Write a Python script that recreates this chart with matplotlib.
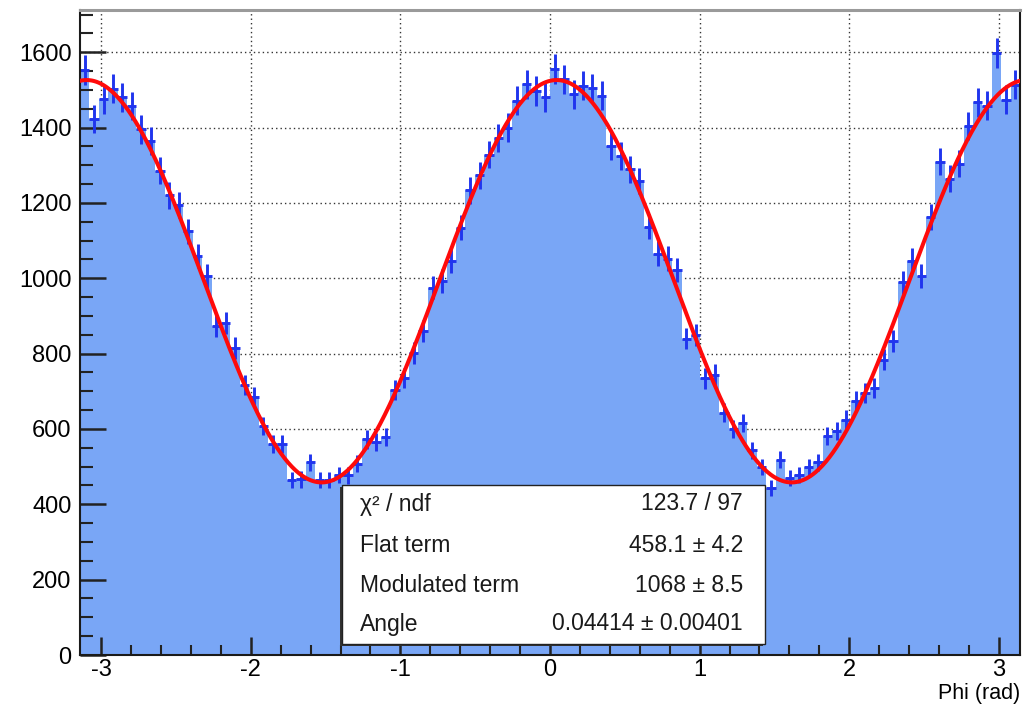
import numpy as np
import matplotlib
matplotlib.use("Agg")
import matplotlib.pyplot as plt
from matplotlib.ticker import MultipleLocator, FixedLocator
from matplotlib.patches import Rectangle

# Histogram contents, 100 bins over [-pi, pi]
counts = [
    1553, 1422, 1475, 1503, 1481, 1457, 1395, 1365, 1285, 1220,
    1195, 1125, 1059, 1005, 873, 882, 815, 716, 685, 608,
    559, 559, 464, 466, 511, 465, 464, 478, 477, 508,
    572, 566, 579, 704, 735, 802, 860, 975, 992, 1045,
    1134, 1233, 1273, 1328, 1372, 1400, 1471, 1515, 1497, 1480,
    1555, 1528, 1488, 1511, 1504, 1484, 1351, 1324, 1289, 1258,
    1137, 1065, 1052, 1021, 840, 849, 734, 744, 643, 600,
    616, 543, 499, 444, 518, 470, 478, 499, 512, 582,
    594, 625, 675, 696, 709, 784, 833, 989, 1047, 1007,
    1162, 1309, 1264, 1304, 1405, 1467, 1458, 1598, 1474, 1514,
]

# Fit parameters: flat + modulated * cos^2(phi - angle)
flat_term = 458.1
modulated_term = 1068.0
angle = 0.04414

stats_labels = ["\u03c7\u00b2 / ndf", "Flat term", "Modulated term", "Angle"]
stats_values = ["123.7 / 97", "458.1 \u00b1 4.2", "1068 \u00b1 8.5", "0.04414 \u00b1 0.00401"]

x_ticks = [-3, -2, -1, 0, 1, 2, 3]
y_ticks = [0, 200, 400, 600, 800, 1000, 1200, 1400, 1600]
x_label = "Phi (rad)"

plt.rcParams["font.family"] = ["Liberation Sans", "DejaVu Sans"]
plt.rcParams["axes.unicode_minus"] = False

counts = np.asarray(counts, dtype=float)
edges = np.linspace(-np.pi, np.pi, len(counts) + 1)
centers = 0.5 * (edges[:-1] + edges[1:])
half_width = 0.5 * (edges[1] - edges[0])

phi = np.linspace(-np.pi, np.pi, 800)
fit_curve = flat_term + modulated_term * np.cos(phi - angle) ** 2

fig = plt.figure(figsize=(10.30, 7.05), dpi=100)
ax = fig.add_axes([80 / 1030, 1 - 655 / 705, 940 / 1030, 645 / 705])

ax.set_xlim(-np.pi, np.pi)
ax.set_ylim(0, 1712)

# dotted grid behind the filled histogram
grid_style = dict(color="#333333", lw=1.0, ls=(0, (1, 2.2)), zorder=0.5)
for xt in x_ticks:
    ax.axvline(xt, **grid_style)
for yt in y_ticks[1:]:
    ax.axhline(yt, **grid_style)

ax.stairs(counts, edges, fill=True, color="#79a6f6", zorder=1)
ax.errorbar(centers, counts, yerr=np.sqrt(counts), xerr=half_width,
            fmt="none", ecolor="#2035ee", elinewidth=2.1, capsize=0, zorder=2)
ax.plot(phi, fit_curve, color="#ff0a0a", lw=2.9, zorder=3)

# axes, ticks and frame
ax.xaxis.set_major_locator(FixedLocator(x_ticks))
ax.xaxis.set_minor_locator(MultipleLocator(0.2))
ax.yaxis.set_major_locator(FixedLocator(y_ticks))
ax.yaxis.set_minor_locator(MultipleLocator(50))
ax.tick_params(axis="y", which="major", direction="in", length=19, width=1.8,
               color="#222222", pad=6, labelsize=17)
ax.tick_params(axis="y", which="minor", direction="in", length=9.5, width=1.5,
               color="#222222")
ax.tick_params(axis="x", which="major", direction="in", length=13, width=1.8,
               color="#222222", pad=3, labelsize=17)
ax.tick_params(axis="x", which="minor", direction="in", length=7, width=1.5,
               color="#222222")
ax.set_xticklabels([str(v) for v in x_ticks])
ax.set_yticklabels([str(v) for v in y_ticks])
for side in ("left", "bottom", "right"):
    ax.spines[side].set_color("#1a1a1a")
    ax.spines[side].set_linewidth(1.5)
ax.spines["top"].set_color("#9a9a9a")
ax.spines["top"].set_linewidth(2.2)

fig.text(1020 / 1030, 1 - 694 / 705, x_label, ha="right", va="center", fontsize=15.5)

# fit statistics box
bx0, by0 = (342 - 80) / 940, (655 - 644) / 645
bw, bh = (765 - 342) / 940, (644 - 485) / 645
ax.add_patch(Rectangle((bx0 - 0.002, by0 - 0.003), bw, bh, transform=ax.transAxes,
                       facecolor="#333333", edgecolor="none", zorder=9))
ax.add_patch(Rectangle((bx0, by0), bw, bh, transform=ax.transAxes,
                       facecolor="white", edgecolor="#222222", lw=1.0, zorder=10))
row_y = [504, 545, 585, 624]
for lab, val, yp in zip(stats_labels, stats_values, row_y):
    ya = (655 - yp) / 645
    ax.text((360 - 80) / 940, ya, lab, transform=ax.transAxes, ha="left",
            va="center", fontsize=16.5, color="#1a1a1a", zorder=11)
    ax.text((743 - 80) / 940, ya, val, transform=ax.transAxes, ha="right",
            va="center", fontsize=16.5, color="#1a1a1a", zorder=11)

fig.savefig("out.png", dpi=100)
